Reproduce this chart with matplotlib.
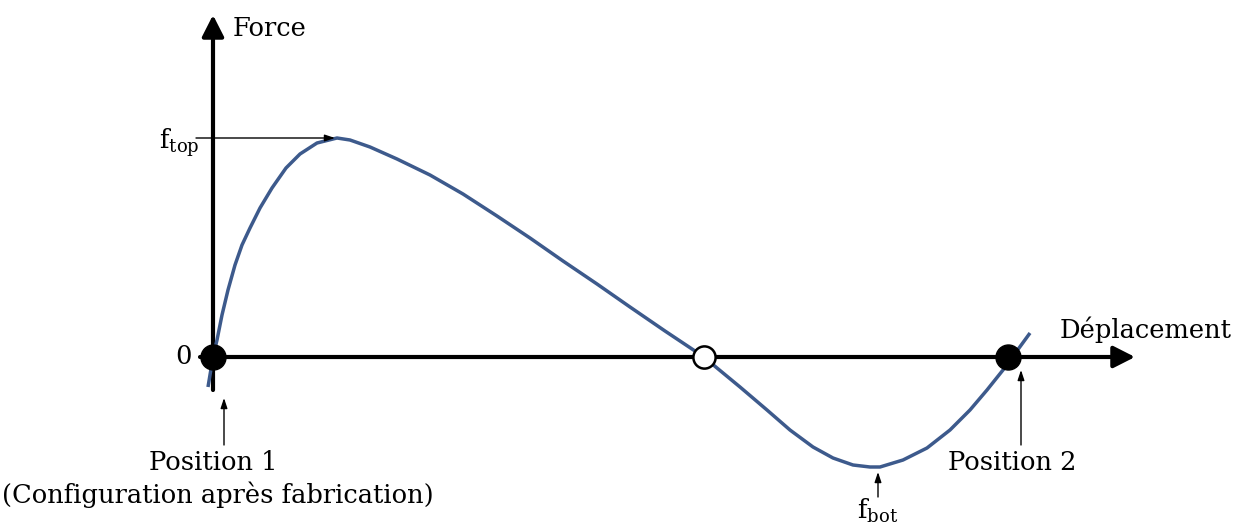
import numpy as np
import matplotlib.pyplot as plt

# Force-displacement curve of a bistable element (arbitrary units)
displacement = [-5, 0, 4, 9, 15, 22, 29, 37, 47, 59, 73, 87, 104, 124, 137, 157,
                184, 217, 250, 284, 317, 350, 384, 417, 452, 491,
                504, 527, 554, 577, 600, 620, 640, 657, 667, 690, 714, 737, 757,
                774, 790, 817]
force = [-30, 0, 17, 42, 67, 92, 112, 129, 149, 169, 189, 203, 214, 219, 217, 210,
         198, 182, 163, 141, 119, 96, 73, 50, 26, 0,
         -11, -30, -53, -73, -90, -101, -108, -110, -110, -103, -91, -73, -53,
         -33, -13, 24]

# equilibrium positions on the displacement axis
stable_x = [0, 795]
unstable_x = [491]

f_top = (124, 219)
f_bot = (665, -111)

plt.rcParams['font.family'] = 'DejaVu Serif'
plt.rcParams['mathtext.fontset'] = 'dejavuserif'

fig = plt.figure(figsize=(12.49, 5.29), dpi=100)
ax = fig.add_axes([0, 0, 1, 1])
ax.set_xlim(-213, 1036)
ax.set_ylim(-172, 357)
ax.axis('off')

# axes with arrow heads
axis_arrow = dict(arrowstyle='-|>,head_length=0.65,head_width=0.33', lw=3, color='k',
                  shrinkA=0, shrinkB=0, mutation_scale=20)
ax.annotate('', xy=(0, 342), xytext=(0, -33), arrowprops=axis_arrow)
ax.annotate('', xy=(922, 0), xytext=(-13, 0), arrowprops=axis_arrow)

ax.plot(displacement, force, color='#3d5a8c', lw=2.5, solid_capstyle='butt',
        solid_joinstyle='round', zorder=3)

ax.plot(stable_x, [0] * len(stable_x), 'o', ms=18, color='k', zorder=4)
ax.plot(unstable_x, [0] * len(unstable_x), 'o', ms=16, mfc='white', mec='k', mew=1.8, zorder=4)

fs = 18.5
ax.text(20, 329, 'Force', fontsize=fs, va='center', ha='left')
ax.text(847, 27, 'Déplacement', fontsize=fs, va='center', ha='left')
ax.text(-21, 0, '0', fontsize=fs, va='center', ha='right')

thin = dict(arrowstyle='-|>,head_length=0.6,head_width=0.2', lw=1, color='k', shrinkA=0, shrinkB=0)

ax.annotate('', xy=(f_top[0] - 2, f_top[1]), xytext=(-17, f_top[1]), arrowprops=thin)
ax.text(-13, f_top[1] - 5, r'f$_{\mathrm{top}}$', fontsize=fs, va='center', ha='right')

ax.annotate('', xy=(f_bot[0], f_bot[1] - 4), xytext=(f_bot[0], -140), arrowprops=thin)
ax.text(f_bot[0], -154, r'f$_{\mathrm{bot}}$', fontsize=fs, va='center', ha='center')

ax.annotate('', xy=(11, -41), xytext=(11, -88), arrowprops=thin)
ax.text(0, -105, 'Position 1', fontsize=fs, va='center', ha='center')
ax.text(5, -138, '(Configuration après fabrication)', fontsize=fs, va='center', ha='center')

ax.annotate('', xy=(808, -13), xytext=(808, -88), arrowprops=thin)
ax.text(799, -105, 'Position 2', fontsize=fs, va='center', ha='center')

fig.savefig('out.png', dpi=100)
